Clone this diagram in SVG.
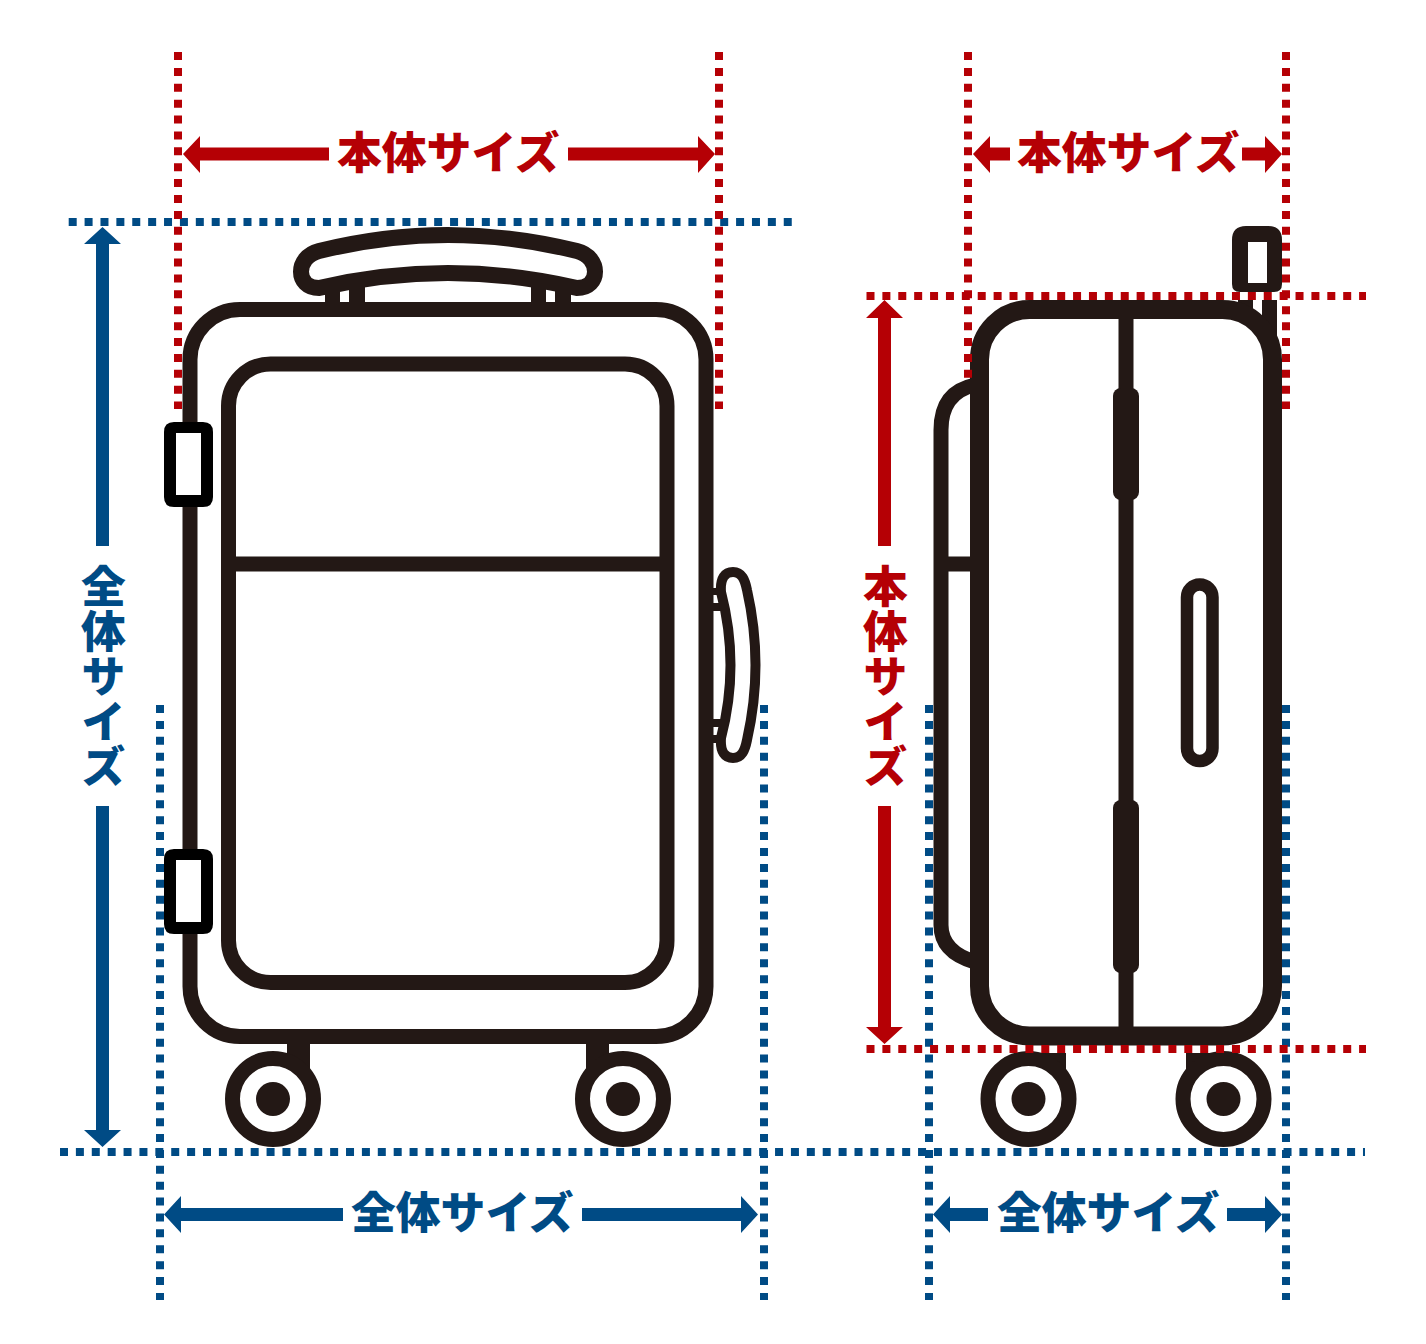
<svg xmlns="http://www.w3.org/2000/svg" width="1426" height="1344" viewBox="0 0 1426 1344">
<style>
.k{fill:none;stroke:#231815;stroke-width:15}
.kk{fill:#231815}
.dr{fill:none;stroke:#b50005;stroke-width:8;stroke-dasharray:8 7.89}
.db{fill:none;stroke:#004b85;stroke-width:8;stroke-dasharray:8 7.89}
.r{fill:#b50005}
.b{fill:#004b85}
text{font-family:"Noto Sans CJK JP","Noto Sans",sans-serif;font-weight:900;font-size:44.8px}
.v{writing-mode:vertical-rl}
</style>
<rect width="1426" height="1344" fill="#fff"/>
<g id="front-suitcase">
<path class="k" d="M319 251Q448 219 577 251C601 257 601 288 577 288Q448 258 319 288C295 288 295 257 319 251Z" style="stroke-width:16"/>
<path class="kk" d="M325 290h15v15h-15zM349 278h16v27h-16zM531 278h15v27h-15zM555 290h16v15h-16z"/>
<rect class="k" x="190" y="309.5" width="516" height="727" rx="50"/>
<rect class="k" x="228.5" y="364" width="438.5" height="618.5" rx="42"/>
<path class="k" d="M236 564H660"/>
<path class="kk" d="M287 1040h23v35h-23zM586 1040h23v35h-23z"/>
<circle cx="273" cy="1099" r="40.5" fill="#fff" stroke="#231815" stroke-width="15"/>
<circle class="kk" cx="273" cy="1099" r="17"/>
<circle cx="623" cy="1099" r="40.5" fill="#fff" stroke="#231815" stroke-width="15"/>
<circle class="kk" cx="623" cy="1099" r="17"/>
<path class="kk" d="M713 588h12v7h-12zM713 603h12v8h-12zM713 719h12v8h-12zM713 735h12v8h-12z"/>
<path d="M721 592C720 578 725 572 733 572C742 572 745 580 747 590Q764 665 747 740C745 750 742 758 733 758C725 758 720 752 721 738Q740 665 721 592Z" fill="none" stroke="#231815" stroke-width="10"/>
<path fill="#fff" d="M176 433h25v62h-25zM176 860h25v62h-25z"/>
<path fill="#000" fill-rule="evenodd" d="M174 422H203Q213 422 213 432V497Q213 507 203 507H174Q164 507 164 497V432Q164 422 174 422ZM176 433V495H201V433ZM174 849H203Q213 849 213 859V924Q213 934 203 934H174Q164 934 164 924V859Q164 849 174 849ZM176 860V922H201V860Z"/>
</g>
<g id="side-suitcase">
<path class="k" d="M975 385Q941 392 941 430V925Q941 952 975 962M941 564H975"/>
<path class="kk" d="M1238 300h15v25h-15zM1262 300h15v50h-15z"/>
<rect x="979.500" y="309.500" width="293" height="726.500" rx="50" fill="#fff" stroke="#231815" stroke-width="19"/>
<path class="k" d="M1126 315V1030"/>
<rect class="kk" x="1113" y="388" width="26" height="112" rx="8"/>
<rect class="kk" x="1113" y="800" width="26" height="173" rx="8"/>
<rect x="1187" y="584.500" width="25.500" height="176.500" rx="12.700" fill="#fff" stroke="#231815" stroke-width="12.500"/>
<path class="kk" fill-rule="evenodd" d="M1246 226H1268Q1282 226 1282 240V284Q1282 292 1274 292H1240Q1232 292 1232 284V240Q1232 226 1246 226ZM1248 242V283H1267V242Z"/>
<path class="kk" d="M1017 1053h49v20h-49zM1186 1053h49v20h-49z"/>
<circle cx="1028.500" cy="1099" r="40.500" fill="#fff" stroke="#231815" stroke-width="15"/>
<circle class="kk" cx="1028.500" cy="1099" r="17"/>
<circle cx="1223.500" cy="1099" r="40.500" fill="#fff" stroke="#231815" stroke-width="15"/>
<circle class="kk" cx="1223.500" cy="1099" r="17"/>
</g>
<g id="connectors">
<path class="db" d="M68.700 222H792M60 1152H1365M160 705V1300M764 705V1300M929 705V1300M1286 705V1300"/>
<path class="dr" d="M178 52V409M719 52V409M968 52V378M1286 52V409M866.500 296H1366M866.500 1049H1366"/>
<path class="r" d="M183 154L200 136V147.500H329V160.500H200V173ZM715 154L698 136V147.500H568V160.500H698V173Z"/>
<path class="r" d="M973 154L990 136V147.500H1010V160.500H990V173ZM1282 154L1265 136V147.500H1242V160.500H1265V173Z"/>
<path class="b" d="M164 1214.500L181 1196V1208H343V1221H181V1233ZM758 1214.500L741 1196V1208H582V1221H741V1233Z"/>
<path class="b" d="M933 1214.500L950 1196V1208H988V1221H950V1233ZM1282 1214.500L1265 1196V1208H1227V1221H1265V1233Z"/>
<path class="b" d="M102.500 227L121 244H109V546H96V244H84ZM102.500 1147L121 1130H109V806H96V1130H84Z"/>
<path class="r" d="M884.500 300L903 318H891V546H878V318H866ZM884.500 1044L903 1027H891V806H878V1027H866Z"/>
</g>
<g id="labels">
<text class="r" x="337" y="169">本体サイズ</text>
<text class="r" x="1017" y="169">本体サイズ</text>
<text class="b" x="351" y="1229">全体サイズ</text>
<text class="b" x="997" y="1229">全体サイズ</text>
<text class="b v" x="103.500" y="564">全体サイズ</text>
<text class="r v" x="885.500" y="564">本体サイズ</text>
</g>
</svg>
